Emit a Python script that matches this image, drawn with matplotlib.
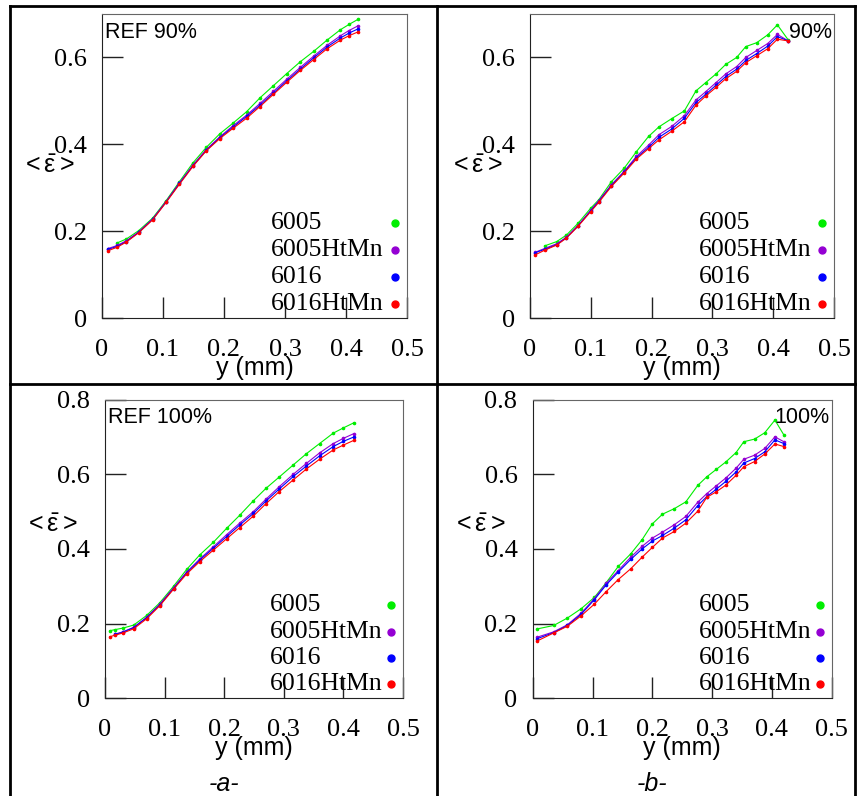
import matplotlib
matplotlib.use("Agg")
import matplotlib.pyplot as plt
from matplotlib.lines import Line2D
from matplotlib.ticker import FuncFormatter
import numpy as np

nan = np.nan

plt.rcParams['mathtext.fontset'] = 'custom'
plt.rcParams['mathtext.rm'] = 'Liberation Sans'
plt.rcParams['mathtext.it'] = 'Liberation Sans:italic'

# series names and colours
names = ['6005', '6005HtMn', '6016', '6016HtMn']
colors = ['#00ee00', '#9400d3', '#0000ff', '#ff0000']

# -a- REF 90%
x_a90 = [0.01, 0.025, 0.04, 0.06, 0.083, 0.105, 0.127, 0.149, 0.171, 0.193, 0.215,
         0.237, 0.259, 0.281, 0.303, 0.325, 0.347, 0.369, 0.391, 0.405, 0.42]
g_a90 = [nan, 0.173, 0.182, 0.201, 0.23, 0.27, 0.314, 0.357, 0.393, 0.424, 0.449,
         0.475, 0.507, 0.535, 0.563, 0.59, 0.614, 0.64, 0.664, 0.676, 0.688]
p_a90 = [0.16, 0.167, 0.178, 0.198, 0.228, 0.268, 0.311, 0.352, 0.388, 0.417, 0.443,
         0.467, 0.494, 0.522, 0.55, 0.577, 0.603, 0.628, 0.65, 0.662, 0.673]
b_a90 = [0.158, 0.165, 0.176, 0.197, 0.227, 0.267, 0.31, 0.35, 0.386, 0.415, 0.44,
         0.464, 0.49, 0.518, 0.546, 0.573, 0.599, 0.624, 0.645, 0.656, 0.666]
r_a90 = [0.155, 0.163, 0.175, 0.196, 0.226, 0.266, 0.308, 0.349, 0.385, 0.413, 0.437,
         0.46, 0.487, 0.515, 0.543, 0.57, 0.595, 0.62, 0.64, 0.65, 0.659]

# -b- 90%
x_b90 = [0.008, 0.024, 0.044, 0.06, 0.079, 0.1, 0.113, 0.134, 0.155, 0.175, 0.195, 0.212,
         0.233, 0.254, 0.273, 0.289, 0.306, 0.322, 0.34, 0.355, 0.373, 0.391, 0.407, 0.425]
g_b90 = [nan, 0.166, 0.176, 0.191, 0.218, 0.253, 0.272, 0.314, 0.345, 0.383, 0.418, 0.44,
         0.459, 0.477, 0.523, 0.542, 0.562, 0.584, 0.6, 0.625, 0.634, 0.652, 0.675, 0.64]
p_b90 = [0.151, 0.16, 0.171, 0.186, 0.213, 0.248, 0.27, 0.307, 0.338, 0.372, 0.398, 0.422,
         0.441, 0.466, 0.502, 0.521, 0.542, 0.562, 0.579, 0.6, 0.616, 0.632, 0.653, 0.638]
b_b90 = [0.15, 0.158, 0.169, 0.185, 0.212, 0.247, 0.268, 0.305, 0.336, 0.369, 0.393, 0.416,
         0.435, 0.46, 0.496, 0.515, 0.536, 0.556, 0.573, 0.593, 0.609, 0.626, 0.648, 0.638]
r_b90 = [0.145, 0.156, 0.168, 0.184, 0.211, 0.245, 0.266, 0.303, 0.334, 0.366, 0.39, 0.41,
         0.43, 0.452, 0.49, 0.511, 0.531, 0.551, 0.568, 0.588, 0.604, 0.62, 0.642, 0.638]

# -a- REF 100%
x_a100 = [0.008, 0.017, 0.03, 0.048, 0.07, 0.092, 0.115, 0.137, 0.159, 0.182, 0.204,
          0.226, 0.249, 0.27, 0.292, 0.316, 0.338, 0.36, 0.383, 0.4, 0.418]
g_a100 = [0.181, 0.184, 0.188, 0.196, 0.222, 0.256, 0.3, 0.345, 0.384, 0.418, 0.455,
          0.49, 0.529, 0.562, 0.592, 0.625, 0.655, 0.682, 0.71, 0.724, 0.738]
p_a100 = [nan, 0.172, 0.178, 0.19, 0.217, 0.252, 0.296, 0.338, 0.373, 0.406, 0.438,
          0.469, 0.5, 0.533, 0.566, 0.6, 0.629, 0.657, 0.682, 0.696, 0.709]
b_a100 = [nan, 0.171, 0.177, 0.189, 0.216, 0.25, 0.294, 0.336, 0.37, 0.402, 0.433,
          0.464, 0.495, 0.528, 0.56, 0.594, 0.622, 0.649, 0.674, 0.688, 0.7]
r_a100 = [0.165, 0.169, 0.175, 0.186, 0.213, 0.248, 0.292, 0.333, 0.366, 0.397, 0.427,
          0.457, 0.488, 0.521, 0.553, 0.585, 0.614, 0.64, 0.665, 0.678, 0.691]

# -b- 100%
x_b100 = [0.008, 0.035, 0.058, 0.081, 0.103, 0.123, 0.143, 0.164, 0.183, 0.2, 0.217, 0.237,
          0.256, 0.276, 0.291, 0.307, 0.323, 0.34, 0.353, 0.371, 0.388, 0.405, 0.42]
g_b100 = [0.186, 0.195, 0.215, 0.24, 0.27, 0.31, 0.353, 0.387, 0.425, 0.467, 0.493, 0.508,
          0.526, 0.57, 0.593, 0.613, 0.633, 0.658, 0.687, 0.694, 0.711, 0.745, 0.705]
p_b100 = [0.164, 0.178, 0.197, 0.228, 0.267, 0.308, 0.342, 0.378, 0.407, 0.429, 0.445, 0.465,
          0.487, 0.525, 0.548, 0.569, 0.59, 0.616, 0.64, 0.651, 0.669, 0.7, 0.687]
b_b100 = [0.16, 0.176, 0.195, 0.225, 0.264, 0.304, 0.338, 0.372, 0.4, 0.421, 0.436, 0.456,
          0.478, 0.516, 0.54, 0.56, 0.581, 0.606, 0.63, 0.642, 0.66, 0.692, 0.682]
r_b100 = [0.154, 0.175, 0.193, 0.221, 0.252, 0.286, 0.318, 0.347, 0.378, 0.404, 0.429, 0.447,
          0.469, 0.501, 0.538, 0.553, 0.571, 0.597, 0.62, 0.634, 0.654, 0.681, 0.674]

panels = [
    ([0.119, 0.6005, 0.3559, 0.3819], x_a90, [g_a90, p_a90, b_a90, r_a90], 0.70, 'REF 90%', 'left'),
    ([0.6184, 0.6005, 0.3547, 0.3819], x_b90, [g_b90, p_b90, b_b90, r_b90], 0.70, '90%', 'right'),
    ([0.1225, 0.1227, 0.3477, 0.3754], x_a100, [g_a100, p_a100, b_a100, r_a100], 0.80, 'REF 100%', 'left'),
    ([0.6216, 0.1227, 0.3489, 0.3754], x_b100, [g_b100, p_b100, b_b100, r_b100], 0.80, '100%', 'right'),
]

# legend rows (axes fraction)
leg_rows = [0.312, 0.223, 0.135, 0.047]

serif = 'Liberation Serif'
sans = 'Liberation Sans'

fig = plt.figure(figsize=(8.57, 7.96), dpi=100)

fmt = FuncFormatter(lambda v, pos: '0' if abs(v) < 1e-9 else f'{v:.1f}')

for rect, xs, ys, ytop, tag, side in panels:
    ax = fig.add_axes(rect)
    for y, c in zip(ys, colors):
        ax.plot(xs, y, '-', color=c, lw=0.8, marker='o', ms=1.6, mec=c, mfc=c)
    ax.set_xlim(0, 0.5)
    ax.set_ylim(0, ytop)
    ax.set_xticks([0, 0.1, 0.2, 0.3, 0.4, 0.5])
    ax.set_yticks(np.arange(0, ytop + 0.01, 0.2))
    ax.xaxis.set_major_formatter(fmt)
    ax.yaxis.set_major_formatter(fmt)
    ax.tick_params(direction='in', length=15, width=1, color='#222222')
    ax.tick_params(axis='x', pad=15)
    ax.tick_params(axis='y', pad=11)
    for lab in ax.get_xticklabels() + ax.get_yticklabels():
        lab.set_fontfamily(serif)
        lab.set_fontsize(19)
    ax.spines['left'].set_color('#222222')
    ax.spines['bottom'].set_color('#222222')
    ax.spines['top'].set_color('#666666')
    ax.spines['right'].set_color('#666666')
    if side == 'left':
        ax.text(0.01, 0.975, tag, transform=ax.transAxes, ha='left', va='top',
                fontsize=15.5, family=sans)
    else:
        ax.text(0.992, 0.975, tag, transform=ax.transAxes, ha='right', va='top',
                fontsize=15.5, family=sans)

    # legend: names left-aligned, dots in a column at the right
    for name, c, ly in zip(names, colors, leg_rows):
        ax.text(0.555, ly, name, transform=ax.transAxes, ha='left', va='center',
                fontsize=18.5, family=serif)
        ax.plot([0.96], [ly], 'o', ms=5, color=c, transform=ax.transAxes, clip_on=False)

    # axis labels placed like in the original document
    x0, y0, w, h = rect
    fig.text(x0 + w * 0.5, y0 - 0.063, 'y (mm)', ha='center', va='center',
             fontsize=18, family=sans)
    yl = 0.5 if ytop < 0.75 else 0.58
    fig.text(x0 - 0.063, y0 + h * yl, r'${<}\bar{\mathrm{\varepsilon}}{>}$', ha='center',
             va='center', fontsize=18)

# the table frame around the four plots
frame = dict(color='black', lw=2, transform=fig.transFigure)
fig.add_artist(Line2D([10 / 857, 855 / 857], [1 - 6 / 796, 1 - 6 / 796], **frame))
fig.add_artist(Line2D([10 / 857, 855 / 857], [1 - 384 / 796, 1 - 384 / 796], **frame))
fig.add_artist(Line2D([10 / 857, 10 / 857], [0, 1 - 6 / 796], **frame))
fig.add_artist(Line2D([437 / 857, 437 / 857], [0, 1 - 6 / 796], **frame))
fig.add_artist(Line2D([855 / 857, 855 / 857], [0, 1 - 6 / 796], **frame))

fig.text(224 / 857, 1 - 784 / 796, '-a-', ha='center', va='center', fontsize=18,
         family=sans, style='italic')
fig.text(652 / 857, 1 - 784 / 796, '-b-', ha='center', va='center', fontsize=18,
         family=sans, style='italic')

fig.savefig('out.png', dpi=100)
